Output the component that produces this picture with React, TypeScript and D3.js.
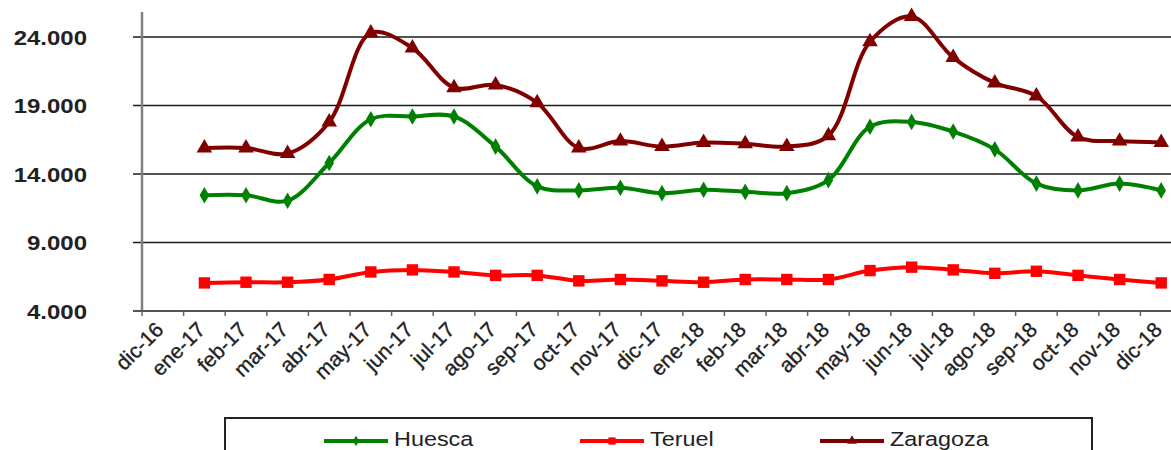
import React, { useEffect, useRef } from 'react';
import * as d3 from 'd3';

const months = [
  'dic-16', 'ene-17', 'feb-17', 'mar-17', 'abr-17', 'may-17', 'jun-17', 'jul-17', 'ago-17',
  'sep-17', 'oct-17', 'nov-17', 'dic-17', 'ene-18', 'feb-18', 'mar-18', 'abr-18', 'may-18',
  'jun-18', 'jul-18', 'ago-18', 'sep-18', 'oct-18', 'nov-18', 'dic-18',
];

// series start at ene-17 (dic-16 has no value)
const huesca = [
  null, 12450, 12450, 12050, 14800, 18000, 18200, 18200, 16000, 13100, 12800, 13000, 12600,
  12850, 12700, 12600, 13550, 17450, 17800, 17100, 15800, 13300, 12800, 13300, 12800,
];
const teruel = [
  null, 6050, 6100, 6100, 6300, 6850, 7000, 6850, 6600, 6600, 6200, 6300, 6200,
  6100, 6300, 6300, 6300, 6950, 7200, 7000, 6750, 6900, 6600, 6300, 6050,
];
const zaragoza = [
  null, 15900, 15900, 15500, 17800, 24300, 23200, 20300, 20500, 19200, 15900, 16400, 16000,
  16300, 16200, 16000, 16800, 23650, 25500, 22500, 20650, 19700, 16700, 16400, 16300,
];

const yTicks = [4000, 9000, 14000, 19000, 24000];

const seriesList = [
  { name: 'Huesca', values: huesca, color: '#008000', symbol: d3.symbolDiamond, size: 80 },
  { name: 'Teruel', values: teruel, color: '#ff0000', symbol: d3.symbolSquare, size: 130 },
  { name: 'Zaragoza', values: zaragoza, color: '#800000', symbol: d3.symbolTriangle, size: 105 },
];

const fmt = (v: number) => d3.format(',')(v).replace(/,/g, '.');

const W = 1171;
const H = 450;
const FONT = 'Liberation Sans, Arial, sans-serif';

const App: React.FC = () => {
  const svgRef = useRef<SVGSVGElement>(null);

  useEffect(() => {
    if (!svgRef.current) return;
    const svg = d3.select(svgRef.current);
    svg.selectAll('*').remove();

    const left = 142;
    const bottom = 311;
    const band = 41.6;

    const x = d3.scaleBand<string>()
      .domain(months)
      .range([left, left + band * months.length]);

    const y = d3.scaleLinear()
      .domain([4000, 24000])
      .range([bottom, 37]);

    // gridlines
    svg.append('g')
      .selectAll('line')
      .data(yTicks.slice(1))
      .enter()
      .append('line')
      .attr('x1', left - 9)
      .attr('x2', W)
      .attr('y1', d => y(d))
      .attr('y2', d => y(d))
      .attr('stroke', '#1a1a1a')
      .attr('stroke-width', 1.5);

    // y axis line
    svg.append('line')
      .attr('x1', left).attr('x2', left)
      .attr('y1', 12).attr('y2', bottom)
      .attr('stroke', '#808080')
      .attr('stroke-width', 2.5);

    // x axis line
    svg.append('line')
      .attr('x1', left - 9).attr('x2', W)
      .attr('y1', bottom).attr('y2', bottom)
      .attr('stroke', '#555')
      .attr('stroke-width', 2);

    // x ticks at band boundaries
    svg.append('g')
      .selectAll('line')
      .data(months)
      .enter()
      .append('line')
      .attr('x1', d => x(d)!)
      .attr('x2', d => x(d)!)
      .attr('y1', bottom)
      .attr('y2', bottom + 5)
      .attr('stroke', '#666')
      .attr('stroke-width', 1.5);

    // y labels (source image is stretched horizontally)
    svg.append('g')
      .selectAll('text')
      .data(yTicks)
      .enter()
      .append('text')
      .attr('transform', d => `translate(87,${y(d) + 7.5}) scale(1.2,1)`)
      .attr('text-anchor', 'end')
      .attr('font-family', FONT)
      .attr('font-weight', 'bold')
      .attr('font-size', 20)
      .attr('fill', '#222')
      .text(d => fmt(d));

    // x labels
    svg.append('g')
      .selectAll('text')
      .data(months)
      .enter()
      .append('text')
      .attr('transform', d => `translate(${x(d)! + x.bandwidth() / 2 + 2},${bottom + 20}) rotate(-45)`)
      .attr('text-anchor', 'end')
      .attr('font-family', FONT)
      .attr('font-size', 21)
      .attr('fill', '#222')
      .attr('stroke', '#222')
      .attr('stroke-width', 0.35)
      .text(d => d);

    const cx = (i: number) => x(months[i])! + x.bandwidth() / 2;

    seriesList.forEach(s => {
      const pts = s.values
        .map((v, i) => ({ v, i }))
        .filter(p => p.v !== null) as { v: number; i: number }[];

      const line = d3.line<{ v: number; i: number }>()
        .x(p => cx(p.i))
        .y(p => y(p.v))
        .curve(d3.curveCatmullRom.alpha(0.5));

      svg.append('path')
        .datum(pts)
        .attr('d', line)
        .attr('fill', 'none')
        .attr('stroke', s.color)
        .attr('stroke-width', 4)
        .attr('stroke-linejoin', 'round');

      svg.append('g')
        .selectAll('path')
        .data(pts)
        .enter()
        .append('path')
        .attr('d', d3.symbol().type(s.symbol).size(s.size)())
        .attr('transform', p => `translate(${cx(p.i)},${y(p.v)})`)
        .attr('fill', s.color);
    });

    // legend
    const lg = svg.append('g');
    lg.append('rect')
      .attr('x', 225)
      .attr('y', 418)
      .attr('width', 867)
      .attr('height', 60)
      .attr('fill', 'white')
      .attr('stroke', '#222')
      .attr('stroke-width', 2);

    const legendX = [324, 580, 820];
    seriesList.forEach((s, i) => {
      const lx = legendX[i];
      lg.append('line')
        .attr('x1', lx).attr('x2', lx + 64)
        .attr('y1', 441).attr('y2', 441)
        .attr('stroke', s.color)
        .attr('stroke-width', 4);
      lg.append('path')
        .attr('d', d3.symbol().type(s.symbol).size(s.size * 0.4)())
        .attr('transform', `translate(${lx + 32},441)`)
        .attr('fill', s.color);
      lg.append('text')
        .attr('transform', `translate(${lx + 70},446) scale(1.2,1)`)
        .attr('font-family', FONT)
        .attr('font-size', 19.5)
        .attr('fill', '#222')
        .text(s.name);
    });
  }, []);

  return (
    <svg
      ref={svgRef}
      width={W}
      height={H}
      style={{ position: 'absolute', left: 0, top: 0, background: '#fff' }}
    />
  );
};

export default App;
